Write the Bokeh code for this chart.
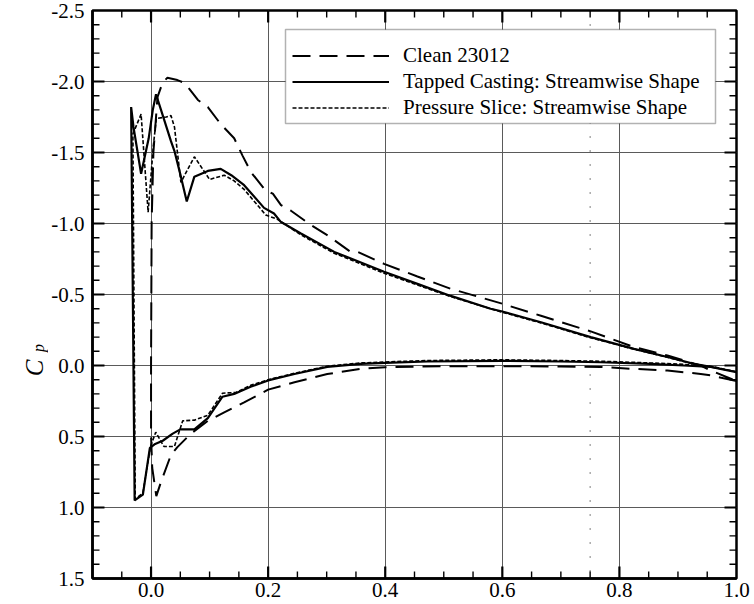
from bokeh.plotting import figure
from bokeh.layouts import row
from bokeh.models import (Range1d, FixedTicker, PrintfTickFormatter, LinearAxis, Grid,
                          Legend, LegendItem, Span, Label, BoxAnnotation)
from bokeh.embed import file_html
from bokeh.resources import INLINE
import math

# ---------------- data (x/c, Cp) ----------------
clean_x = [1.0, 0.956, 0.939, 0.882, 0.825, 0.768, 0.7, 0.6, 0.5, 0.4, 0.358, 0.301, 0.245, 0.2,
           0.159, 0.125, 0.097, 0.068, 0.045, 0.034, 0.017, 0.009, 0.002, 0.0, 0.0, 0.001, 0.004,
           0.011, 0.02, 0.028, 0.045, 0.054, 0.065, 0.08, 0.097, 0.119, 0.142, 0.156, 0.171, 0.196,
           0.208, 0.222, 0.239, 0.273, 0.302, 0.341, 0.353, 0.398, 0.455, 0.512, 0.6, 0.666, 0.751,
           0.825, 0.882, 0.939, 0.956, 1.0]
clean_cp = [0.11, 0.07, 0.06, 0.035, 0.024, 0.01, 0.007, 0.005, 0.005, 0.012, 0.024, 0.06, 0.118, 0.17,
            0.26, 0.33, 0.39, 0.48, 0.575, 0.63, 0.82, 0.92, 0.72, 0.5, 0.0, -1.0, -1.5,
            -1.89, -1.995, -2.026, -2.01, -1.995, -1.95, -1.87, -1.82, -1.70, -1.60, -1.48, -1.36, -1.23,
            -1.21, -1.13, -1.09, -0.99, -0.915, -0.80, -0.80, -0.716, -0.627, -0.54, -0.435, -0.35, -0.24,
            -0.13, -0.07, 0.0, 0.035, 0.11]

cast_x = [1.0, 0.956, 0.91, 0.853, 0.768, 0.7, 0.6, 0.472, 0.4, 0.358, 0.301, 0.245, 0.2, 0.17,
          0.142, 0.122, 0.097, 0.074, 0.05, 0.037, 0.02, 0.006, -0.002, -0.014, -0.028, -0.034,
          -0.03, -0.017, -0.004, 0.003, 0.0085, 0.017, 0.034, 0.04, 0.051, 0.061, 0.074, 0.097, 0.119,
          0.137, 0.159, 0.193, 0.21, 0.222, 0.256, 0.313, 0.398, 0.455, 0.512, 0.58, 0.6, 0.666,
          0.751, 0.825, 0.882, 0.927, 0.956, 1.0]
cast_cp = [0.047, 0.01, 0.0, -0.012, -0.023, -0.028, -0.033, -0.028, -0.019, -0.012, 0.01, 0.06, 0.105, 0.15,
           0.2, 0.22, 0.37, 0.45, 0.45, 0.48, 0.53, 0.555, 0.58, 0.91, 0.95, -1.82,
           -1.68, -1.35, -1.6, -1.8, -1.91, -1.80, -1.58, -1.51, -1.33, -1.155, -1.33, -1.37, -1.385,
           -1.34, -1.27, -1.11, -1.07, -1.01, -0.93, -0.80, -0.66, -0.575, -0.49, -0.40, -0.38, -0.305,
           -0.20, -0.117, -0.06, -0.012, 0.01, 0.047]

slice_x = [1.0, 0.956, 0.91, 0.853, 0.768, 0.7, 0.6, 0.472, 0.4, 0.358, 0.301, 0.245, 0.2, 0.17,
           0.145, 0.122, 0.097, 0.074, 0.054, 0.04, 0.022, 0.008, -0.001, -0.014, -0.027, -0.031,
           -0.024, -0.017, -0.005, 0.004, 0.009, 0.026, 0.034, 0.04, 0.051, 0.074, 0.1, 0.125,
           0.142, 0.159, 0.196, 0.216, 0.256, 0.313, 0.398, 0.455, 0.512, 0.6, 0.666, 0.751, 0.825,
           0.882, 0.927, 0.956, 1.0]
slice_cp = [0.045, 0.005, -0.008, -0.018, -0.03, -0.035, -0.04, -0.035, -0.025, -0.018, 0.005, 0.055, 0.10, 0.14,
            0.19, 0.195, 0.35, 0.385, 0.39, 0.57, 0.57, 0.47, 0.57, 0.90, 0.94, -1.63,
            -1.70, -1.77, -1.08, -1.55, -1.74, -1.75, -1.76, -1.68, -1.29, -1.47, -1.31, -1.34,
            -1.30, -1.24, -1.06, -1.03, -0.92, -0.79, -0.65, -0.567, -0.485, -0.375, -0.30, -0.195, -0.115,
            -0.058, -0.01, 0.01, 0.045]

series_labels = ["Clean 23012", "Tapped Casting: Streamwise Shape", "Pressure Slice: Streamwise Shape"]
x_ticks = [0.0, 0.2, 0.4, 0.6, 0.8, 1.0]
x_minor = [round(-0.1 + 0.05 * i, 3) for i in range(23)]
y_ticks = [-2.5, -2.0, -1.5, -1.0, -0.5, 0.0, 0.5, 1.0, 1.5]
y_minor = [round(-2.5 + 0.1 * i, 3) for i in range(41)]
marker_x = 0.75
X_MIN, X_MAX = -0.1, 1.0
Y_TOP, Y_BOT = -2.5, 1.5

FONT = "Liberation Serif"

# ---------------- layout sizes ----------------
LAB_W = 48                 # narrow strip holding the rotated "Cp" axis title
MAIN_W, H = 754 - LAB_W, 604
B_LEFT, B_RIGHT, B_TOP, B_BOT = 43, 18, 10, 26
px_per_x = (MAIN_W - B_LEFT - B_RIGHT) / (X_MAX - X_MIN)
px_per_y = (H - B_TOP - B_BOT) / (Y_BOT - Y_TOP)
MAJ_LEN, MIN_LEN = 12, 7
TICK_COLOR = "black"

p = figure(width=MAIN_W, height=H, output_backend="svg", toolbar_location=None,
           x_range=Range1d(X_MIN, X_MAX), y_range=Range1d(Y_BOT, Y_TOP),
           min_border_left=B_LEFT, min_border_right=B_RIGHT, min_border_top=B_TOP,
           min_border_bottom=B_BOT, x_axis_type=None, y_axis_type=None)
p.background_fill_color = "white"
p.border_fill_color = "white"
p.outline_line_color = "black"
p.outline_line_width = 2.5

xt = FixedTicker(ticks=x_ticks, minor_ticks=x_minor)
yt = FixedTicker(ticks=y_ticks, minor_ticks=y_minor)


def style_axis(ax):
    ax.axis_line_color = "black"
    ax.axis_line_width = 2.5
    ax.major_tick_in = 0
    ax.major_tick_out = 0
    ax.minor_tick_in = 0
    ax.minor_tick_out = 0
    ax.formatter = PrintfTickFormatter(format="%.1f")
    ax.major_label_text_font = FONT
    ax.major_label_text_font_size = "21px"
    ax.major_label_text_color = "black"


xb = LinearAxis(ticker=xt)
style_axis(xb)
xb.major_label_standoff = 4
p.add_layout(xb, "below")
yl = LinearAxis(ticker=yt)
style_axis(yl)
yl.major_label_standoff = 8
p.add_layout(yl, "left")

for g in (Grid(dimension=0, ticker=xt), Grid(dimension=1, ticker=yt)):
    g.grid_line_color = "#5a5a5a"
    g.grid_line_width = 1
    p.add_layout(g)

p.add_layout(Span(location=marker_x, dimension="height", line_color="black",
                  line_width=1, line_dash="1 13"))

# inward tick marks on all four sides (small filled bars, centred inside the frame)
y_minor_only = [v for v in y_minor if all(abs(v - t) > 1e-6 for t in y_ticks)]
x_minor_only = [v for v in x_minor[1:-1] if all(abs(v - t) > 1e-6 for t in x_ticks)]


def yticks_at(edge, sign, vals, length, lw):
    n = len(vals)
    cx = edge + sign * (length / 2) / px_per_x
    p.rect(x=[cx] * n, y=vals, width=length, height=lw, width_units="screen",
           height_units="screen", fill_color=TICK_COLOR, line_color=None)


def xticks_at(edge, sign, vals, length, lw):
    n = len(vals)
    cy = edge + sign * (length / 2) / px_per_y
    p.rect(x=vals, y=[cy] * n, width=lw, height=length, width_units="screen",
           height_units="screen", fill_color=TICK_COLOR, line_color=None)


yticks_at(X_MIN, 1, y_ticks[1:-1], MAJ_LEN, 2.2)
yticks_at(X_MIN, 1, y_minor_only, MIN_LEN, 1.4)
yticks_at(X_MAX, -1, y_ticks[1:-1], MAJ_LEN, 2.2)
yticks_at(X_MAX, -1, y_minor_only, MIN_LEN, 1.4)
xticks_at(Y_BOT, -1, x_ticks[:-1], MAJ_LEN, 2.2)
xticks_at(Y_BOT, -1, x_minor_only, MIN_LEN, 1.4)
xticks_at(Y_TOP, 1, x_ticks[:-1], MAJ_LEN, 2.2)
xticks_at(Y_TOP, 1, x_minor_only, MIN_LEN, 1.4)

r_clean = p.line(clean_x, clean_cp, line_color="black", line_width=2, line_dash="18 9")
r_cast = p.line(cast_x, cast_cp, line_color="black", line_width=2.2)
r_slice = p.line(slice_x, slice_cp, line_color="black", line_width=1.6, line_dash="4 2")

# legend frame
p.add_layout(BoxAnnotation(left=193, right=623, bottom=455, top=549,
                           left_units="screen", right_units="screen",
                           bottom_units="screen", top_units="screen",
                           fill_color="white", fill_alpha=1, line_color="black", line_width=1.5))

legend = Legend(items=[LegendItem(label=series_labels[0], renderers=[r_clean]),
                       LegendItem(label=series_labels[1], renderers=[r_cast]),
                       LegendItem(label=series_labels[2], renderers=[r_slice])],
                location=(200, 458))
legend.glyph_width = 97
legend.glyph_height = 25
legend.label_height = 25
legend.label_standoff = 14
legend.padding = 5
legend.spacing = 1
legend.margin = 0
legend.label_text_font = FONT
legend.label_text_font_size = "21px"
legend.label_text_color = "black"
legend.border_line_color = None
legend.background_fill_alpha = 0
p.add_layout(legend)

# ---------------- axis title strip ----------------
lab = figure(width=LAB_W, height=H, output_backend="svg", toolbar_location=None,
             x_range=Range1d(0, LAB_W), y_range=Range1d(0, H),
             min_border=0, x_axis_type=None, y_axis_type=None)
lab.outline_line_color = None
lab.background_fill_color = "white"
lab.border_fill_color = "white"
lab.add_layout(Label(x=34, y=H - 380, text="C", angle=math.pi / 2, text_font=FONT,
                     text_font_style="italic", text_font_size="25px", text_align="center",
                     text_baseline="middle", text_color="black"))
lab.add_layout(Label(x=38, y=H - 359, text="p", angle=math.pi / 2, text_font=FONT,
                     text_font_style="italic", text_font_size="16px", text_align="center",
                     text_baseline="middle", text_color="black"))

layout = row(lab, p, spacing=0)
open("out.html", "w").write(file_html(layout, INLINE))
